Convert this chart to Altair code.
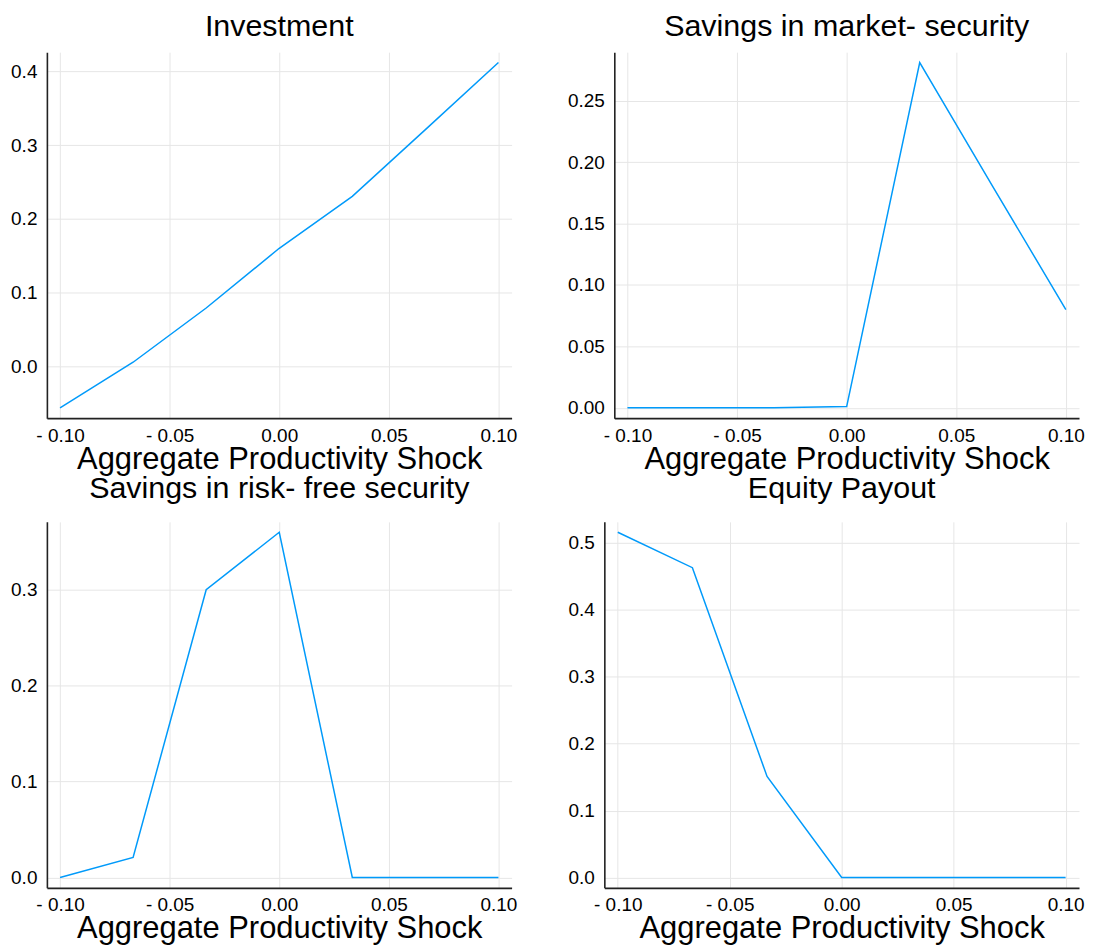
import altair as alt
import pandas as pd

# ---- data ----
shock = [-0.1, -0.06667, -0.03333, 0.0, 0.03333, 0.06667, 0.1]
investment = [-0.0564, 0.0054, 0.079, 0.160, 0.2305, 0.321, 0.412]
market_savings = [0.0, 0.0, 0.0, 0.001, 0.281, 0.180, 0.080]
riskfree_savings = [0.0, 0.021, 0.300, 0.360, 0.0, 0.0, 0.0]
equity_payout = [0.516, 0.463, 0.151, 0.0, 0.0, 0.0, 0.0]

titles = ["Investment", "Savings in market- security",
          "Savings in risk- free security", "Equity Payout"]
x_title = "Aggregate Productivity Shock"
x_ticks = [-0.1, -0.05, 0.0, 0.05, 0.1]
y_ticks_inv = [0.0, 0.1, 0.2, 0.3, 0.4]
y_ticks_mkt = [0.0, 0.05, 0.10, 0.15, 0.20, 0.25]
y_ticks_rf = [0.0, 0.1, 0.2, 0.3]
y_ticks_eq = [0.0, 0.1, 0.2, 0.3, 0.4, 0.5]

FONT = "Liberation Sans"
BLUE = "#009AFA"


def padded(vals, frac=0.03):
    lo, hi = min(vals), max(vals)
    p = (hi - lo) * frac
    return [lo - p, hi + p]


X_LABEL = ("datum.value < 0 ? '- ' + format(-datum.value, '.2f') "
           ": format(datum.value, '.2f')")


def panel(title, yvals, yticks, yfmt, width, height, title_offset):
    df = pd.DataFrame({"x": shock, "y": yvals})
    return alt.Chart(
        df,
        title=alt.Title(title, anchor="middle", frame="group", fontSize=30.5,
                        font=FONT, fontWeight="normal", color="black",
                        offset=title_offset),
    ).mark_line(color=BLUE, strokeWidth=1.5).encode(
        x=alt.X("x:Q",
                scale=alt.Scale(domain=padded(shock), nice=False, zero=False),
                axis=alt.Axis(values=x_ticks, labelExpr=X_LABEL,
                              title=x_title)),
        y=alt.Y("y:Q",
                scale=alt.Scale(domain=padded(yvals), nice=False, zero=False),
                axis=alt.Axis(values=yticks, format=yfmt, title=None)),
    ).properties(width=width, height=height)


c1 = panel(titles[0], investment, y_ticks_inv, ".1f", 466, 367, 10)
c2 = panel(titles[1], market_savings, y_ticks_mkt, ".2f", 466, 367, 10)
c3 = panel(titles[2], riskfree_savings, y_ticks_rf, ".1f", 466, 367, 17)
c4 = panel(titles[3], equity_payout, y_ticks_eq, ".1f", 476, 367, 17)

row1 = alt.hconcat(c1, c2, spacing=50)
row2 = alt.hconcat(c3, c4, spacing=50)

chart = alt.vconcat(row1, row2, spacing=0).properties(
    padding={"left": 2, "top": 2, "right": 0, "bottom": 0},
    background="white",
).configure_axis(
    domainColor="#222222", domainWidth=1.6,
    gridColor="#e6e6e6", gridWidth=1,
    ticks=False,
    labelFont=FONT, labelFontSize=19, labelColor="black", labelPadding=10,
    titleFont=FONT, titleFontSize=31, titleFontWeight="normal",
    titleColor="black",
    labelFlush=False, labelOverlap=False,
).configure_axisX(
    labelPadding=8, titlePadding=-1,
).configure_view(stroke=None)

chart.save("out.html", embed_options={"renderer": "svg", "actions": False})
